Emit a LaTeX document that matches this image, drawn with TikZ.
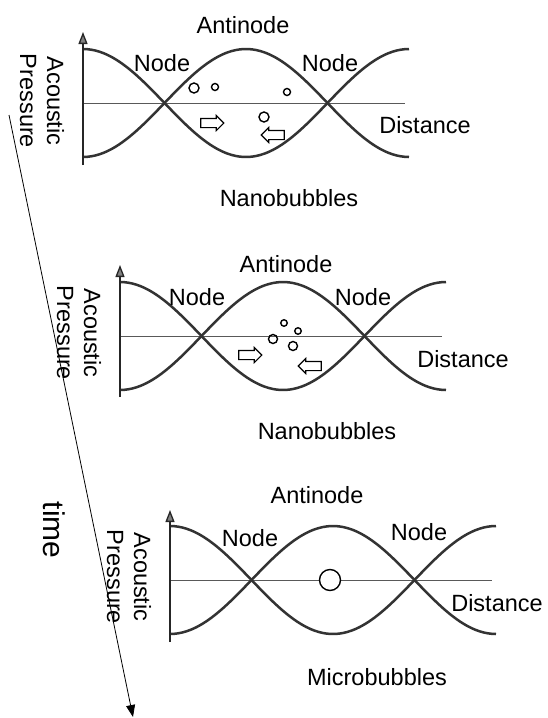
\documentclass[tikz,border=0pt]{standalone}
\usepackage{fontspec}
\setmainfont{Liberation Sans}
\usetikzlibrary{arrows.meta, shapes.arrows}
\definecolor{wavegray}{gray}{0.2}
\definecolor{axisgray}{gray}{0.35}
\tikzset{
    wave/.style={line width=2.5pt, draw=wavegray},
    baseaxis/.style={line width=0.9pt, draw=axisgray},
    pressureaxis/.style={line width=1.3pt, draw=black!85, -{Triangle[length=12pt, width=9pt, fill=gray]}},
    lbl/.style={font=\fontsize{23.5}{27}\selectfont, inner sep=0pt},
    ylbl/.style={lbl, rotate=-90, align=center},
    bubble/.style={circle, draw, line width=1.4pt, inner sep=0pt},
    flowarrow/.style={single arrow, draw, line width=1.1pt, inner xsep=0pt, inner ysep=4pt, minimum height=23pt, single arrow head extend=3pt, single arrow head indent=0pt},
    timearrow/.style={line width=0.8pt, -{Triangle[length=12pt, width=9pt]}}
}

\begin{document}
\begin{tikzpicture}[x=1pt, y=-1pt]
\useasboundingbox (0,0) rectangle (547,718);

% first panel: nanobubbles spread out
\begin{scope}[shift={(83,103)}]
    \coordinate (aO) at (0,0);
    \coordinate (aTop) at (0,-71);
    \coordinate (aBot) at (0,62);
    \coordinate (aEnd) at (322,0);
    \draw[baseaxis] (aO) -- (aEnd);
    \draw[wave] plot[domain=0:326, samples=80, smooth] (\x, {-54*cos(\x/326*360)});
    \draw[wave] plot[domain=0:326, samples=80, smooth] (\x, {54*cos(\x/326*360)});
    \draw[pressureaxis] (aBot) -- (aTop);
    \node[lbl] (aAnti) at (160,-78) {Antinode};
    \node[lbl] (aNodeL) at (79,-40) {Node};
    \node[lbl] (aNodeR) at (247,-40) {Node};
    \node[lbl] (aDist) at (342,22) {Distance};
    \node[lbl] (aName) at (206,95) {Nanobubbles};
    \node[ylbl] (aPres) at (-41,-2) {Acoustic\\Pressure};
    \node[bubble, minimum size=10pt] (aB1) at (111,-15) {};
    \node[bubble, minimum size=7pt] (aB2) at (132,-16) {};
    \node[bubble, minimum size=7pt] (aB3) at (204,-11) {};
    \node[bubble, minimum size=10pt] (aB4) at (181,14) {};
    \node[flowarrow] (aRight) at (127,20) {};
    \node[flowarrow, shape border rotate=180] (aLeft) at (192,32) {};
\end{scope}

% second panel: nanobubbles gather at the antinode
\begin{scope}[shift={(120,336)}]
    \coordinate (bO) at (0,0);
    \coordinate (bTop) at (0,-71);
    \coordinate (bBot) at (0,61);
    \coordinate (bEnd) at (322,0);
    \draw[baseaxis] (bO) -- (bEnd);
    \draw[wave] plot[domain=0:326, samples=80, smooth] (\x, {-54*cos(\x/326*360)});
    \draw[wave] plot[domain=0:326, samples=80, smooth] (\x, {54*cos(\x/326*360)});
    \draw[pressureaxis] (bBot) -- (bTop);
    \node[lbl] (bAnti) at (166,-72) {Antinode};
    \node[lbl] (bNodeL) at (77,-39) {Node};
    \node[lbl] (bNodeR) at (243,-39) {Node};
    \node[lbl] (bDist) at (343,23) {Distance};
    \node[lbl] (bName) at (207,95) {Nanobubbles};
    \node[ylbl] (bPres) at (-41,-3) {Acoustic\\Pressure};
    \node[bubble, minimum size=6.5pt] (bB1) at (164,-13) {};
    \node[bubble, minimum size=6.5pt] (bB2) at (178,-5) {};
    \node[bubble, minimum size=9pt] (bB3) at (153,3) {};
    \node[bubble, minimum size=9pt] (bB4) at (173,10) {};
    \node[flowarrow] (bRight) at (128,19) {};
    \node[flowarrow, shape border rotate=180] (bLeft) at (192,30) {};
\end{scope}

% third panel: one microbubble at the antinode
\begin{scope}[shift={(170,580)}]
    \coordinate (cO) at (0,0);
    \coordinate (cTop) at (0,-70);
    \coordinate (cBot) at (0,62);
    \coordinate (cEnd) at (322,0);
    \draw[baseaxis] (cO) -- (cEnd);
    \draw[wave] plot[domain=0:326, samples=80, smooth] (\x, {-54*cos(\x/326*360)});
    \draw[wave] plot[domain=0:326, samples=80, smooth] (\x, {54*cos(\x/326*360)});
    \draw[pressureaxis] (cBot) -- (cTop);
    \node[lbl] (cAnti) at (147,-85) {Antinode};
    \node[lbl] (cNodeL) at (80,-42) {Node};
    \node[lbl] (cNodeR) at (249,-48) {Node};
    \node[lbl] (cDist) at (327,23) {Distance};
    \node[lbl] (cName) at (207,97) {Microbubbles};
    \node[ylbl] (cPres) at (-41,-3) {Acoustic\\Pressure};
    \node[bubble, fill=white, minimum size=21pt] (cB) at (160,0) {};
\end{scope}

% time axis
\coordinate (tStart) at (9,115);
\coordinate (tEnd) at (133,717);
\draw[timearrow] (tStart) -- (tEnd);
\node[lbl, font=\fontsize{30}{34}\selectfont, rotate=-90] (tLbl) at (54,530) {time};
\end{tikzpicture}
\end{document}
